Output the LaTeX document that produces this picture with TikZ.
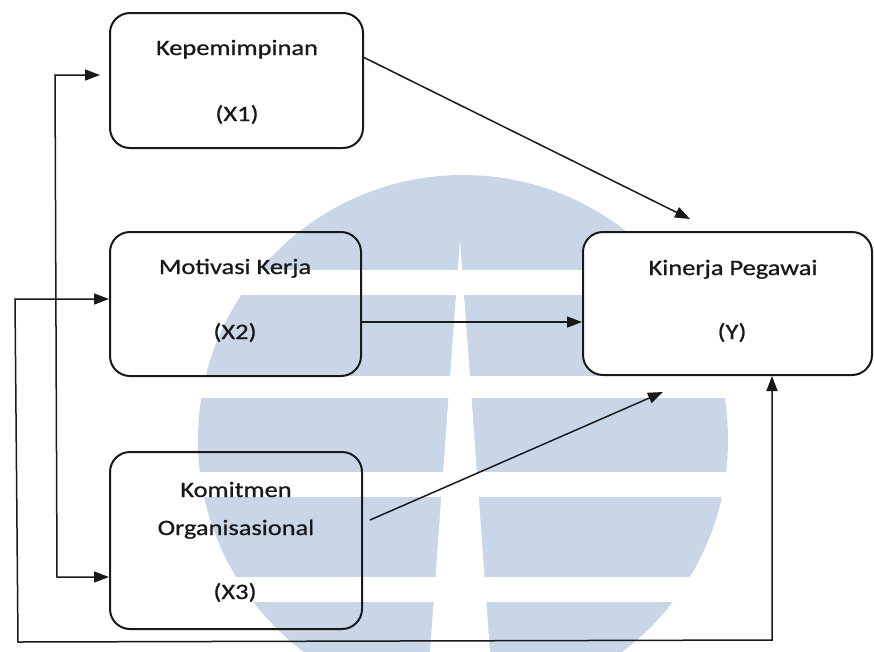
\documentclass[tikz,border=0pt]{standalone}
\usepackage{fontspec}
\setmainfont{Carlito}[FakeStretch=1.2,FakeBold=0.8]
\usetikzlibrary{arrows.meta}
\definecolor{wmblue}{RGB}{201,214,232}
\begin{document}
\begin{tikzpicture}[x=1pt,y=-1pt,
  box/.style={draw=black!90, line width=2pt, rounded corners=20pt, inner sep=0pt},
  lbl/.style={font=\fontsize{22}{26}\selectfont, inner sep=0pt, anchor=base, text=black!90},
  conn/.style={line width=1.5pt, draw=black!90, -{Triangle[length=15pt,width=11pt]}},
  biconn/.style={line width=1.5pt, draw=black!90, {Triangle[length=15pt,width=11pt]}-{Triangle[length=15pt,width=11pt]}}]
\useasboundingbox (0,0) rectangle (874,651);
\fill[white] (0,0) rectangle (874,651);
% watermark
\begin{scope}
  \clip (0,0) rectangle (874,651);
  \fill[wmblue] (463,440) circle[radius=265pt];
  \fill[white] (150,270) rectangle (780,295);
  \fill[white] (150,376) rectangle (780,398);
  \fill[white] (150,472) rectangle (780,497);
  \fill[white] (150,577) rectangle (780,602);
  \fill[white] (460,240) -- (430,652) -- (490,652) -- cycle;
\end{scope}
% boxes
\node[box, minimum width=253pt, minimum height=135pt] (X1) at (236.5,80.5) {};
\node[box, minimum width=251pt, minimum height=144pt] (X2) at (235.5,304) {};
\node[box, minimum width=252pt, minimum height=177pt] (X3) at (236,540.5) {};
\node[box, fill=white, minimum width=289pt, minimum height=143pt] (Y) at (727.5,303.5) {};
% labels
\node[lbl] (t1a) at (237,55) {Kepemimpinan};
\node[lbl] (t1b) at (237,121) {(X1)};
\node[lbl] (t2a) at (235,274) {Motivasi Kerja};
\node[lbl] (t2b) at (235,339) {(X2)};
\node[lbl] (t3a) at (236,497) {Komitmen};
\node[lbl] (t3b) at (236,535) {Organisasional};
\node[lbl] (t3c) at (235,599) {(X3)};
\node[lbl] (tya) at (733,275) {Kinerja Pegawai};
\node[lbl] (tyb) at (732,339) {(Y)};
% connector points
\coordinate (p1s) at ([yshift=23pt]X1.east);
\coordinate (p1e) at (690,219);
\coordinate (p2s) at ([yshift=-18pt]X2.east);
\coordinate (p3s) at (370,520);
\coordinate (p3e) at (663,392);
\coordinate (L1) at (15,299);
\coordinate (L2) at (18,642);
\coordinate (L3) at (772,640);
\coordinate (M1) at (55,75);
\coordinate (M2) at (57,577);
% connectors
\draw[conn] (p1s) -- (p1e);
\draw[conn] (p2s) -- (Y.west |- p2s);
\draw[conn] (p3s) -- (p3e);
\draw[biconn] (X2.west |- L1) -- (L1) -- (L2) -- (L3) -- (L3 |- Y.south);
\draw[biconn, shorten <=9pt] (X1.west |- M1) -- (M1) -- (M2) -- (X3.west |- M2);
\end{tikzpicture}
\end{document}
